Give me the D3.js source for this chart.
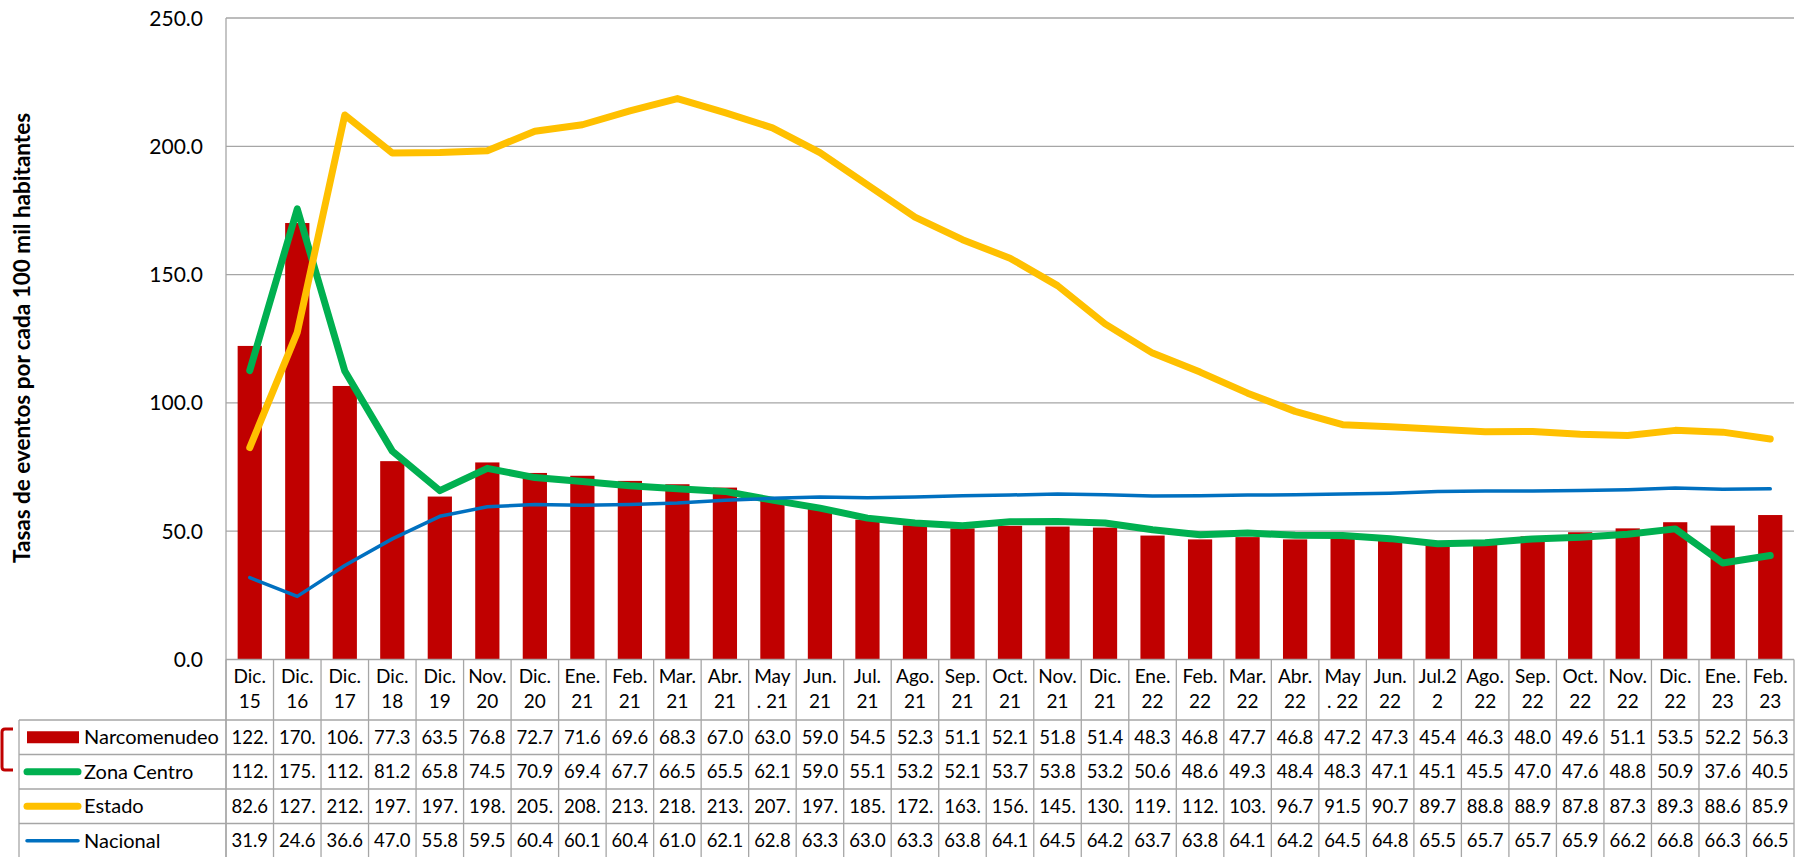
<!DOCTYPE html>
<html>
<head>
<meta charset="utf-8">
<script src="https://cdn.jsdelivr.net/npm/d3@7"></script>
<style>
  body { margin: 0; background: #fff; }
  text { font-family: Lato, "Noto Sans", sans-serif; fill: #000; }
</style>
</head>
<body>
<div id="chart"></div>
<script>
// categories (two lines each, as wrapped in the data table)
const categories = [
  ["Dic.", "15"], ["Dic.", "16"], ["Dic.", "17"], ["Dic.", "18"], ["Dic.", "19"],
  ["Nov.", "20"], ["Dic.", "20"], ["Ene.", "21"], ["Feb.", "21"], ["Mar.", "21"],
  ["Abr.", "21"], ["May", ". 21"], ["Jun.", "21"], ["Jul.", "21"], ["Ago.", "21"],
  ["Sep.", "21"], ["Oct.", "21"], ["Nov.", "21"], ["Dic.", "21"], ["Ene.", "22"],
  ["Feb.", "22"], ["Mar.", "22"], ["Abr.", "22"], ["May", ". 22"], ["Jun.", "22"],
  ["Jul.2", "2"], ["Ago.", "22"], ["Sep.", "22"], ["Oct.", "22"], ["Nov.", "22"],
  ["Dic.", "22"], ["Ene.", "23"], ["Feb.", "23"]
];

const narcomenudeo = [122.2, 170.1, 106.6, 77.3, 63.5, 76.8, 72.7, 71.6, 69.6, 68.3, 67.0,
  63.0, 59.0, 54.5, 52.3, 51.1, 52.1, 51.8, 51.4, 48.3, 46.8, 47.7, 46.8, 47.2, 47.3,
  45.4, 46.3, 48.0, 49.6, 51.1, 53.5, 52.2, 56.3];
const zonaCentro = [112.6, 175.6, 112.4, 81.2, 65.8, 74.5, 70.9, 69.4, 67.7, 66.5, 65.5,
  62.1, 59.0, 55.1, 53.2, 52.1, 53.7, 53.8, 53.2, 50.6, 48.6, 49.3, 48.4, 48.3, 47.1,
  45.1, 45.5, 47.0, 47.6, 48.8, 50.9, 37.6, 40.5];
const estado = [82.6, 127.5, 212.2, 197.4, 197.6, 198.3, 205.9, 208.4, 213.8, 218.6, 213.1,
  207.2, 197.5, 185.0, 172.4, 163.6, 156.4, 145.7, 130.8, 119.4, 112.0, 103.8, 96.7, 91.5,
  90.7, 89.7, 88.8, 88.9, 87.8, 87.3, 89.3, 88.6, 85.9];
const nacional = [31.9, 24.6, 36.6, 47.0, 55.8, 59.5, 60.4, 60.1, 60.4, 61.0, 62.1, 62.8,
  63.3, 63.0, 63.3, 63.8, 64.1, 64.5, 64.2, 63.7, 63.8, 64.1, 64.2, 64.5, 64.8, 65.5,
  65.7, 65.7, 65.9, 66.2, 66.8, 66.3, 66.5];

const yTicks = [0, 50, 100, 150, 200, 250];
const yTitle = "Tasas de eventos por cada 100 mil habitantes";

const series = [
  {name: "Narcomenudeo", values: narcomenudeo, color: "#C00000", type: "bar"},
  {name: "Zona Centro", values: zonaCentro, color: "#00B050", type: "line", width: 7},
  {name: "Estado", values: estado, color: "#FFC000", type: "line", width: 7},
  {name: "Nacional", values: nacional, color: "#0070C0", type: "line", width: 3.5}
];

const W = 1804, H = 857;
const plot = {left: 226, right: 1794, top: 18, bottom: 659.5};
const tableTop = 720, rowH = 34.5, legendLeft = 19;
const gridColor = "#A6A6A6";

const svg = d3.select("#chart").append("svg")
  .attr("width", W)
  .attr("height", H);

const idx = d3.range(categories.length);
const x = d3.scaleBand().domain(idx).range([plot.left, plot.right]).padding(0);
const y = d3.scaleLinear().domain([0, 250]).range([plot.bottom, plot.top]);
const cx = i => x(i) + x.bandwidth() / 2;

// gridlines
svg.append("g")
  .selectAll("line")
  .data(yTicks.filter(d => d > 0))
  .join("line")
  .attr("x1", plot.left).attr("x2", plot.right)
  .attr("y1", d => y(d)).attr("y2", d => y(d))
  .attr("stroke", gridColor).attr("stroke-width", 1.3);

// y axis labels
svg.append("g")
  .selectAll("text")
  .data(yTicks)
  .join("text")
  .attr("x", 203)
  .attr("y", d => y(d))
  .attr("dy", "0.36em")
  .attr("text-anchor", "end")
  .style("font-size", "21px")
  .text(d => d3.format(".1f")(d));

svg.append("text")
  .attr("transform", "translate(30, 338) rotate(-90)")
  .attr("text-anchor", "middle")
  .style("font-size", "22.5px")
  .style("font-weight", "bold")
  .text(yTitle);

// bars
const barW = x.bandwidth() * 0.51;
svg.append("g")
  .selectAll("rect")
  .data(narcomenudeo)
  .join("rect")
  .attr("x", (d, i) => cx(i) - barW / 2)
  .attr("width", barW)
  .attr("y", d => y(d))
  .attr("height", d => plot.bottom - y(d))
  .attr("fill", "#C00000");

// lines
const line = d3.line().x((d, i) => cx(i)).y(d => y(d));
series.filter(s => s.type === "line").forEach(s => {
  svg.append("path")
    .datum(s.values)
    .attr("d", line)
    .attr("fill", "none")
    .attr("stroke", s.color)
    .attr("stroke-width", s.width)
    .attr("stroke-linejoin", "round")
    .attr("stroke-linecap", "round");
});

// left axis line
svg.append("line")
  .attr("x1", plot.left).attr("x2", plot.left)
  .attr("y1", plot.top).attr("y2", H)
  .attr("stroke", gridColor).attr("stroke-width", 1.3);

// data table
const tbl = svg.append("g");
const tableBottom = tableTop + rowH * 4;

// category row verticals
tbl.selectAll(".vline")
  .data(d3.range(categories.length + 1))
  .join("line")
  .attr("x1", i => plot.left + i * x.step()).attr("x2", i => plot.left + i * x.step())
  .attr("y1", plot.bottom).attr("y2", tableBottom)
  .attr("stroke", gridColor).attr("stroke-width", 1.3);

tbl.append("line")
  .attr("x1", plot.left).attr("x2", plot.right)
  .attr("y1", plot.bottom).attr("y2", plot.bottom)
  .attr("stroke", gridColor).attr("stroke-width", 1.3);

tbl.selectAll(".hline")
  .data(d3.range(5))
  .join("line")
  .attr("x1", legendLeft).attr("x2", plot.right)
  .attr("y1", r => tableTop + r * rowH).attr("y2", r => tableTop + r * rowH)
  .attr("stroke", gridColor).attr("stroke-width", 1.3);

tbl.append("line")
  .attr("x1", legendLeft).attr("x2", legendLeft)
  .attr("y1", tableTop).attr("y2", tableBottom)
  .attr("stroke", gridColor).attr("stroke-width", 1.3);

// category labels
const catG = tbl.selectAll(".cat")
  .data(categories)
  .join("text")
  .attr("text-anchor", "middle")
  .style("font-size", "19px");
catG.append("tspan").attr("x", (d, i) => cx(i)).attr("y", 683).text(d => d[0]);
catG.append("tspan").attr("x", (d, i) => cx(i)).attr("y", 708).text(d => d[1]);

// values (Excel cuts long numbers to fit the cell)
const fmt = v => d3.format(".1f")(v).slice(0, 4);
series.forEach((s, r) => {
  const rowMid = tableTop + r * rowH + rowH / 2;
  tbl.append("g")
    .selectAll("text")
    .data(s.values)
    .join("text")
    .attr("x", (d, i) => cx(i))
    .attr("y", rowMid)
    .attr("dy", "0.36em")
    .attr("text-anchor", "middle")
    .style("font-size", "18.5px")
    .text(d => fmt(d));

  // legend key
  if (s.type === "bar") {
    tbl.append("rect")
      .attr("x", 27).attr("y", rowMid - 6)
      .attr("width", 52).attr("height", 12)
      .attr("fill", s.color);
  } else {
    tbl.append("line")
      .attr("x1", 27).attr("x2", 78)
      .attr("y1", rowMid).attr("y2", rowMid)
      .attr("stroke", s.color)
      .attr("stroke-width", s.width)
      .attr("stroke-linecap", "round");
  }
  tbl.append("text")
    .attr("x", 84)
    .attr("y", rowMid)
    .attr("dy", "0.36em")
    .style("font-size", "20px")
    .text(s.name);
});

// red bracket at the left edge
svg.append("path")
  .attr("d", "M13,729 L5,729 Q2,729 2,732 L2,767 Q2,770 5,770 L13,770")
  .attr("fill", "none")
  .attr("stroke", "#C00000")
  .attr("stroke-width", 3);
</script>
</body>
</html>
